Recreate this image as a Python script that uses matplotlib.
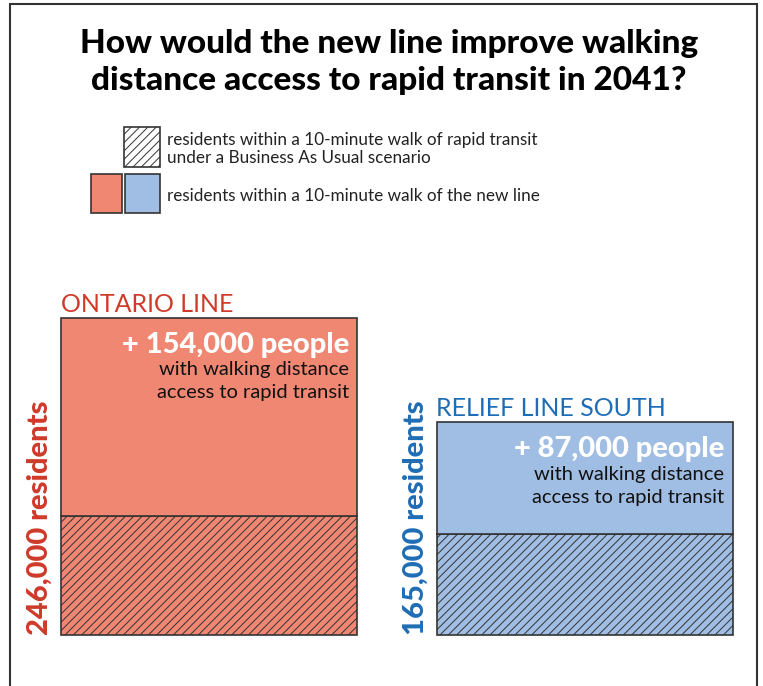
import numpy as np
import matplotlib
matplotlib.use("Agg")
import matplotlib.pyplot as plt
from matplotlib.patches import Rectangle

# values in thousands of residents
lines = ["ONTARIO LINE", "RELIEF LINE SOUTH"]
total = [246, 165]
new_line = [154, 87]
business_as_usual = [92, 78]
total_labels = ["246,000 residents", "165,000 residents"]
gain_labels = ["+ 154,000 people", "+ 87,000 people"]

fill_colors = ["#f08773", "#a0bee3"]
text_colors = ["#cf3a2a", "#1f6db5"]

W, H = 763, 686
plt.rcParams['font.family'] = ['Lato', 'DejaVu Sans']
plt.rcParams['hatch.linewidth'] = 0.7
plt.rcParams['hatch.color'] = '#222222'

fig = plt.figure(figsize=(W / 100, H / 100), dpi=100)


def fx(x):
	return x / W


def fy(y):
	return 1 - y / H


def pt(px):
	return px * 0.72


# axes filling the figure; x unit = distance between bar centres
px_per_unit = 375.5
px_per_k = 317 / 246
ax = fig.add_axes([0, 0, 1, 1])
ax.set_xlim(-209 / px_per_unit, (W - 209) / px_per_unit)
ax.set_ylim(-(H - 635) / px_per_k, 635 / px_per_k)
ax.set_axis_off()

x = np.arange(len(lines))
width = 296 / px_per_unit

ax.bar(x, business_as_usual, width, color=fill_colors, edgecolor="#333333",
	linewidth=1.2, hatch="////")
ax.bar(x, new_line, width, bottom=business_as_usual, color=fill_colors,
	edgecolor="#333333", linewidth=1.2)

for i in range(len(lines)):
	left = x[i] - width / 2
	right = x[i] + width / 2
	ax.annotate(lines[i], xy=(left, total[i]), xytext=(0, pt(6)),
		textcoords="offset points", ha="left", va="baseline",
		fontsize=18, color=text_colors[i])
	ax.annotate(total_labels[i], xy=(left, 0), xytext=(-pt(8), 0),
		textcoords="offset points", ha="right", va="bottom", rotation=90,
		fontsize=21, fontweight=900, color=text_colors[i])
	ax.annotate(gain_labels[i], xy=(right, total[i]), xytext=(-pt(8), -pt(27)),
		textcoords="offset points", ha="right", va="center",
		fontsize=21, fontweight=900, color="white")
	ax.annotate("with walking distance", xy=(right, total[i]), xytext=(-pt(8), -pt(52)),
		textcoords="offset points", ha="right", va="center",
		fontsize=14.5, color="#111111")
	ax.annotate("access to rapid transit", xy=(right, total[i]), xytext=(-pt(8), -pt(75)),
		textcoords="offset points", ha="right", va="center",
		fontsize=14.5, color="#111111")

# title
fig.text(fx(389), fy(62), "How would the new line improve walking\ndistance access to rapid transit in 2041?",
	ha="center", va="center", fontsize=24, fontweight=900, linespacing=1.3)

# legend
fig.add_artist(Rectangle((fx(124), fy(167)), fx(36), 40 / H, facecolor="white",
	edgecolor="#333333", linewidth=1.2, hatch="////", transform=fig.transFigure))
fig.add_artist(Rectangle((fx(91), fy(213)), fx(31), 39 / H, facecolor=fill_colors[0],
	edgecolor="#333333", linewidth=1.2, transform=fig.transFigure))
fig.add_artist(Rectangle((fx(125), fy(213)), fx(35), 39 / H, facecolor=fill_colors[1],
	edgecolor="#333333", linewidth=1.2, transform=fig.transFigure))
fig.text(fx(167), fy(140), "residents within a 10-minute walk of rapid transit",
	ha="left", va="center", fontsize=12.3, color="#222222")
fig.text(fx(167), fy(158), "under a Business As Usual scenario",
	ha="left", va="center", fontsize=12.3, color="#222222")
fig.text(fx(167), fy(196), "residents within a 10-minute walk of the new line",
	ha="left", va="center", fontsize=12.3, color="#222222")

# outer frame (bottom edge runs off the picture)
fig.add_artist(Rectangle((fx(10), fy(700)), fx(747), 696 / H, facecolor="none",
	edgecolor="#333333", linewidth=1.5, transform=fig.transFigure))

fig.savefig("out.png", dpi=100)
